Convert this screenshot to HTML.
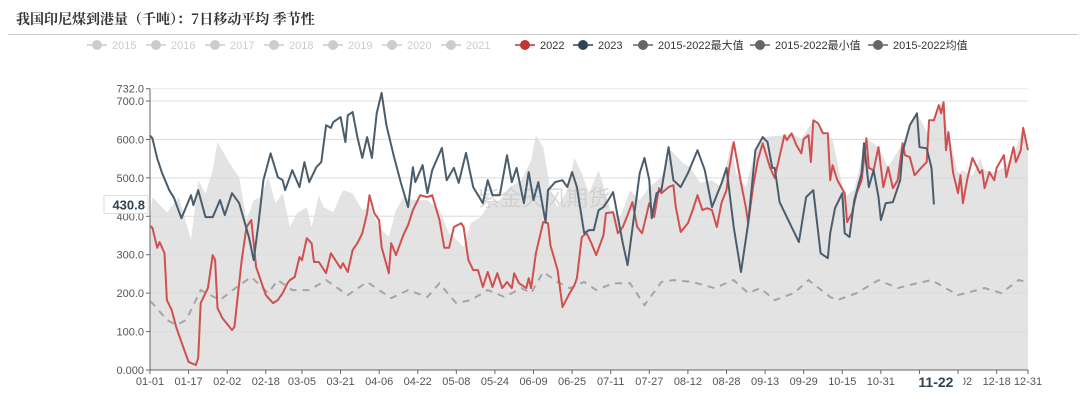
<!DOCTYPE html>
<html><head><meta charset="utf-8">
<style>
body{margin:0;background:#fff;width:1080px;height:408px;overflow:hidden;font-family:"Liberation Sans","Noto Sans CJK SC",sans-serif;}
#title{position:absolute;left:16px;top:9px;font:bold 14px "Noto Serif CJK SC","Liberation Serif",serif;color:#333;}
#rule{position:absolute;left:8px;top:34px;width:1070px;height:1px;background:#ccc;}
</style></head><body>
<div id="title">我国印尼煤到港量（千吨）：7日移动平均 季节性</div>
<div id="rule"></div>
<svg id="chart" width="1080" height="408" style="position:absolute;left:0;top:0"></svg>
<script>
const yTicks=[0,100,200,300,400,500,600,700];
const yMax=732;
const xTickLabels=["01-01","01-17","02-02","02-18","03-05","03-21","04-06","04-22","05-08","05-24","06-09","06-25","07-11","07-27","08-12","08-28","09-13","09-29","10-15","10-31","11-16","12-02","12-18","12-31"];
const xTickDays=[0,16,32,48,63,79,95,111,127,143,159,175,191,207,223,239,255,271,287,303,319,335,351,364];
const days2023=[0,1,3,5,8,10,13,17,18,20,23,26,29,31,34,37,41,43,45,47,50,53,55,56,59,62,64,66,69,71,73,75,76,79,81,82,84,86,88,90,92,94,96,98,101,104,107,109,110,113,115,117,121,123,126,128,131,134,138,140,142,145,148,150,152,155,157,159,161,164,165,168,171,173,175,177,180,182,184,186,188,190,192,196,198,203,205,207,208,210,212,215,217,220,223,227,230,233,237,239,242,245,248,251,254,256,258,259,261,264,266,269,272,275,278,281,282,284,287,288,290,292,295,296,298,300,302,303,305,308,311,312,315,318,319,322,324,325];
const vals2023=[610,603,551,512,468,447,395,455,429,468,398,398,442,403,460,434,346,286,382,494,564,502,494,468,520,476,541,489,528,541,637,630,645,658,593,663,671,606,552,606,552,668,721,637,559,487,424,528,489,533,460,520,578,494,526,487,565,476,434,494,455,455,559,489,526,434,515,442,489,385,468,489,494,476,515,476,356,364,364,416,424,442,463,330,273,512,552,494,395,460,468,580,494,476,512,572,520,424,487,526,372,255,382,572,606,593,526,526,437,398,372,333,450,468,304,291,356,421,460,356,346,442,512,590,476,520,450,390,434,437,494,567,637,668,580,577,526,430.8];
const days2022=[0,1,3,4,6,7,9,11,13,16,19,20,21,24,26,27,28,30,34,35,38,40,42,44,48,51,53,55,57,58,60,62,63,65,67,68,70,73,75,79,80,82,84,86,88,90,91,93,95,96,99,100,102,105,107,109,112,115,117,120,122,124,126,129,130,132,134,136,138,140,142,144,146,148,150,151,153,156,157,158,160,163,165,166,169,171,174,176,177,179,181,183,185,188,189,192,194,196,198,200,202,204,207,209,211,212,215,217,218,220,223,225,227,229,231,233,235,237,239,240,242,245,247,248,250,252,254,257,259,263,264,266,268,270,271,273,274,275,277,279,281,282,283,285,288,289,291,293,295,297,298,300,302,304,306,308,310,312,313,315,317,320,322,323,325,327,328,329,330,331,333,335,336,337,339,341,344,345,346,348,350,351,354,355,358,359,361,362,364];
const vals2022=[375,370,318,333,304,182,156,109,73,21,13,31,174,213,299,286,161,135,104,112,286,372,390,268,195,174,182,200,226,234,242,294,286,343,330,281,281,252,304,265,278,255,312,330,356,408,455,408,390,320,252,330,299,351,377,416,455,450,455,390,318,318,372,382,372,286,260,260,216,255,216,252,213,229,213,252,226,213,239,213,304,385,382,325,260,164,200,221,239,346,356,330,299,351,408,411,356,372,403,437,372,356,434,398,473,460,476,481,424,359,382,416,455,416,421,416,372,437,468,520,593,487,424,382,476,546,590,528,500,611,598,616,585,564,601,611,541,650,642,616,616,494,533,494,460,385,408,460,494,603,526,520,580,476,528,473,494,590,559,554,507,528,541,650,650,689,668,697,572,619,512,460,507,434,502,552,512,520,473,515,494,526,559,502,580,541,572,630,572];
const daysMax=[0,1,7,12,17,20,23,26,28,34,37,40,43,46,49,52,55,58,61,65,67,70,72,76,80,84,88,91,95,99,102,105,110,115,120,124,126,130,133,137,141,145,149,154,158,160,163,166,169,173,176,179,182,186,191,195,199,203,207,212,216,221,224,228,233,237,241,243,247,251,254,263,266,270,275,279,283,288,292,297,302,306,312,318,322,328,331,335,337,341,344,346,350,354,358,362,364];
const valsMax=[380,450,410,450,338,494,460,520,593,528,502,390,442,450,502,434,460,372,408,424,372,455,424,411,468,460,416,424,372,346,416,450,442,442,416,356,346,320,382,398,434,442,476,494,546,611,580,468,424,468,552,512,460,520,416,398,468,442,476,502,572,538,528,487,494,476,594,512,476,572,606,611,616,601,650,616,600,450,470,603,580,528,590,668,620,697,620,512,520,505,552,520,515,526,559,630,575];
const daysMean=[0,1,7,11,15,21,29,36,42,49,53,59,66,73,82,90,100,107,115,120,124,127,133,140,147,154,158,163,169,174,180,185,192,199,205,212,217,225,234,242,248,253,259,267,273,282,285,293,302,310,318,324,335,346,353,360,364];
const valsMean=[178,174,130,117,130,208,182,216,242,200,234,208,208,234,195,229,187,208,190,226,195,174,182,208,190,213,200,255,229,213,229,208,226,226,169,229,234,229,213,234,200,213,182,200,234,190,182,200,234,213,226,234,195,213,200,234,229];

const NS="http://www.w3.org/2000/svg";
const svg=document.getElementById('chart');
const X0=150,X1=1028,Y0=370,pxPerUnit=269/700;
const xS=d=>X0+(X1-X0)*d/364;
const yS=v=>Y0-v*pxPerUnit;
function mk(tag,attrs,parent){const e=document.createElementNS(NS,tag);for(const k in attrs)e.setAttribute(k,attrs[k]);(parent||svg).appendChild(e);return e;}
function pts(ds,vs){return ds.map((d,i)=>xS(d).toFixed(1)+','+yS(vs[i]).toFixed(1)).join(' ');}

yTicks.concat([yMax]).forEach(v=>{
 const g=mk('line',{x1:X0,x2:X1,y1:yS(v),y2:yS(v),stroke:'#e8e8e8','stroke-width':1});
 
 
});
const area=mk('polygon',{points:xS(daysMax[0])+','+Y0+' '+pts(daysMax,valsMax)+' '+xS(daysMax[daysMax.length-1])+','+Y0,fill:'#e3e3e3'});


yTicks.slice(1).forEach(v=>{
 const g=mk('line',{x1:X0,x2:X1,y1:yS(v),y2:yS(v),stroke:'#d8d8d8','stroke-width':1,opacity:0.6});
 
 
});
const wm=mk('text',{x:478,y:206,'font-size':22,fill:'#c8c8c8',opacity:0.7,'font-family':'"Noto Sans CJK SC",sans-serif'});
wm.textContent='紫金天风期货';


const mean=mk('polyline',{points:pts(daysMean,valsMean),fill:'none',stroke:'#a5a5a5','stroke-width':2,'stroke-dasharray':'7,6'});


const l22=mk('polyline',{points:pts(days2022,vals2022),fill:'none',stroke:'#d05050','stroke-width':2,'stroke-linejoin':'round'});


const l23=mk('polyline',{points:pts(days2023,vals2023),fill:'none',stroke:'#4a5d6d','stroke-width':2,'stroke-linejoin':'round'});


const ya=mk('line',{x1:X0,x2:X0,y1:yS(yMax),y2:Y0,stroke:'#666'});


const xa=mk('line',{x1:X0,x2:X1,y1:Y0,y2:Y0,stroke:'#666'});


yTicks.concat([yMax]).forEach(v=>{
 mk('line',{x1:X0-4,x2:X0,y1:yS(v),y2:yS(v),stroke:'#666'});
 const t=mk('text',{x:X0-6,y:yS(v)+4,'font-size':11,fill:'#555','text-anchor':'end'});
 t.textContent=v===0?'0.000':v.toFixed(1);
 
 
});
xTickDays.forEach((d,i)=>{
 mk('line',{x1:xS(d),x2:xS(d),y1:Y0,y2:Y0+4,stroke:'#666'});
 const t=mk('text',{x:xS(d),y:Y0+15,'font-size':11,fill:'#555','text-anchor':'middle'});
 t.textContent=xTickLabels[i];
 
 
});
const cy=yS(430.8);
mk('rect',{x:104,y:cy-9,width:44,height:18,fill:'#fff',stroke:'#ddd'});
const cyl=mk('text',{x:145,y:cy+5,'font-size':13,'font-weight':'bold',fill:'#2f4554','text-anchor':'end'});
cyl.textContent='430.8';


mk('rect',{x:900,y:Y0+5,width:63,height:16,fill:'#fff'});
const cxl=mk('text',{x:xS(325)+2,y:Y0+17,'font-size':14,'font-weight':'bold',fill:'#2f4554','text-anchor':'middle'});
cxl.textContent='11-22';


const legNames=['2015','2016','2017','2018','2019','2020','2021','2022','2023','2015-2022最大值','2015-2022最小值','2015-2022均值'];
const legColors=['#ccc','#ccc','#ccc','#ccc','#ccc','#ccc','#ccc','#c23531','#2f4554','#666','#666','#666'];
const legText=['#ccc','#ccc','#ccc','#ccc','#ccc','#ccc','#ccc','#333','#333','#333','#333','#333'];
const legX=[87,146,205,264,323,382,441,515,573,633,750,868];
legNames.forEach((n,i)=>{
 const g=mk('g',{});
 
 
 mk('line',{x1:legX[i],x2:legX[i]+20,y1:45,y2:45,stroke:legColors[i],'stroke-width':1.5},g);
 mk('circle',{cx:legX[i]+10,cy:45,r:5,fill:legColors[i]},g);
 const t=mk('text',{x:legX[i]+25,y:49,'font-size':11,fill:legText[i]},g);
 t.textContent=n;
});
</script>
</body></html>
